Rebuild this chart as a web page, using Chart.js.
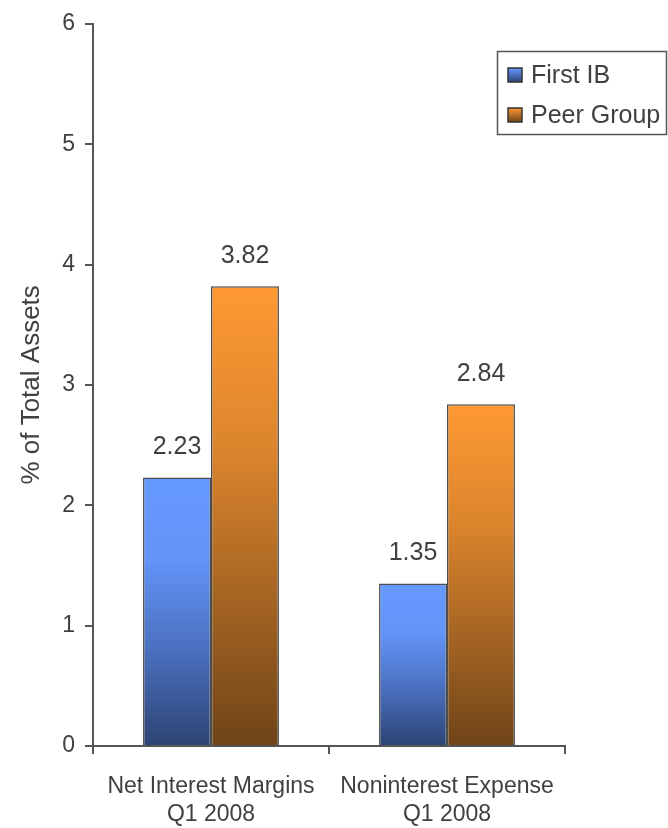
<!DOCTYPE html>
<html>
<head>
<meta charset="utf-8">
<script src="https://cdn.jsdelivr.net/npm/chart.js@4.4.1/dist/chart.umd.min.js"></script>
<style>
  html, body { margin: 0; padding: 0; background: #ffffff; }
  #wrap { width: 668px; height: 828px; }
</style>
</head>
<body>
<div id="wrap"><canvas id="chart" width="668" height="828"></canvas></div>
<script>
// Categories, series and tick values
const categories = [['Net Interest Margins', 'Q1 2008'], ['Noninterest Expense', 'Q1 2008']];
const seriesNames = ['First IB', 'Peer Group'];
const firstIB = [2.23, 1.35];
const peerGroup = [3.82, 2.84];
const yTicks = [0, 1, 2, 3, 4, 5, 6];
const yTitle = '% of Total Assets';

const FONT = 'Liberation Sans, Arial, sans-serif';
const TEXT = '#404040';
const AXIS = '#555555';

const blueStops = [[0, '#6699ff'], [0.3, '#6394f8'], [0.65, '#4a6fbd'], [1, '#2d4473']];
const orangeStops = [[0, '#ff9933'], [0.35, '#dc852d'], [1, '#6f4418']];

// Vertical gradient spanning each bar from its top down to the zero line
function barGradient(stops, fallback) {
  return (ctx) => {
    const chart = ctx.chart;
    if (ctx.type !== 'data' || !chart.chartArea || !chart.scales.y) return fallback;
    const y = chart.scales.y;
    const top = y.getPixelForValue(ctx.raw);
    const base = y.getPixelForValue(0);
    if (!isFinite(top) || !isFinite(base) || top === base) return fallback;
    const g = chart.ctx.createLinearGradient(0, top, 0, base);
    stops.forEach(([o, c]) => g.addColorStop(o, c));
    return g;
  };
}

// Value labels above the bars
const valueLabels = {
  id: 'valueLabels',
  afterDatasetsDraw(chart) {
    const ctx = chart.ctx;
    ctx.save();
    ctx.font = '25px ' + FONT;
    ctx.fillStyle = TEXT;
    ctx.textAlign = 'center';
    ctx.textBaseline = 'middle';
    chart.data.datasets.forEach((ds, i) => {
      chart.getDatasetMeta(i).data.forEach((bar, j) => {
        ctx.fillText(ds.data[j].toFixed(2), bar.x, bar.y - 30);
      });
    });
    ctx.restore();
  }
};

// Boxed legend in the upper right corner
const boxLegend = {
  id: 'boxLegend',
  afterDraw(chart) {
    const ctx = chart.ctx;
    const x = 497, y = 51, w = 170, h = 84;
    ctx.save();
    ctx.fillStyle = '#ffffff';
    ctx.fillRect(x, y, w, h);
    ctx.strokeStyle = AXIS;
    ctx.lineWidth = 1.5;
    ctx.strokeRect(x + 0.5, y + 0.5, w - 1, h - 1);
    const rows = [
      { label: chart.data.datasets[0].label, stops: blueStops, cy: 75 },
      { label: chart.data.datasets[1].label, stops: orangeStops, cy: 115 }
    ];
    rows.forEach(r => {
      const sx = 508, sy = r.cy - 7, s = 14;
      const g = ctx.createLinearGradient(0, sy, 0, sy + s);
      g.addColorStop(0, r.stops[0][1]);
      g.addColorStop(1, r.stops[r.stops.length - 1][1]);
      ctx.fillStyle = g;
      ctx.fillRect(sx, sy, s, s);
      ctx.strokeStyle = '#333333';
      ctx.lineWidth = 1.5;
      ctx.strokeRect(sx, sy, s, s);
      ctx.font = '25px ' + FONT;
      ctx.fillStyle = TEXT;
      ctx.textAlign = 'left';
      ctx.textBaseline = 'middle';
      ctx.fillText(r.label, 531, r.cy + 1);
    });
    ctx.restore();
  }
};

new Chart(document.getElementById('chart'), {
  type: 'bar',
  data: {
    labels: categories,
    datasets: [
      {
        label: seriesNames[0],
        data: firstIB,
        backgroundColor: barGradient(blueStops, '#5580d8'),
        borderColor: '#4d4d4d',
        borderWidth: 1.5,
        categoryPercentage: 0.576,
        barPercentage: 1.0
      },
      {
        label: seriesNames[1],
        data: peerGroup,
        backgroundColor: barGradient(orangeStops, '#d9832c'),
        borderColor: '#4d4d4d',
        borderWidth: 1.5,
        categoryPercentage: 0.576,
        barPercentage: 1.0
      }
    ]
  },
  options: {
    responsive: false,
    animation: false,
    devicePixelRatio: 1,
    layout: { padding: { top: 22, right: 103, bottom: 0, left: 0 } },
    plugins: {
      legend: { display: false },
      tooltip: { enabled: false }
    },
    scales: {
      x: {
        grid: {
          display: true,
          drawOnChartArea: false,
          drawTicks: true,
          tickLength: 8,
          color: AXIS,
          lineWidth: 2,
          offset: true
        },
        border: { display: true, color: AXIS, width: 2 },
        ticks: {
          color: TEXT,
          font: { family: FONT, size: 23, lineHeight: 1.22 },
          padding: 19,
          maxRotation: 0
        },
        afterFit(scale) { scale.height = 82; }
      },
      y: {
        min: 0,
        max: 6,
        afterBuildTicks(scale) { scale.ticks = yTicks.map(v => ({ value: v })); },
        grid: {
          display: true,
          drawOnChartArea: false,
          drawTicks: true,
          tickLength: 8,
          color: AXIS,
          lineWidth: 2
        },
        border: { display: true, color: AXIS, width: 2 },
        ticks: {
          color: TEXT,
          font: { family: FONT, size: 23 },
          padding: 10
        },
        title: {
          display: true,
          text: yTitle,
          color: TEXT,
          font: { family: FONT, size: 26 },
          padding: { top: 16, bottom: 0 }
        },
        afterFit(scale) { scale.width = 93; }
      }
    }
  },
  plugins: [valueLabels, boxLegend]
});
</script>
</body>
</html>
